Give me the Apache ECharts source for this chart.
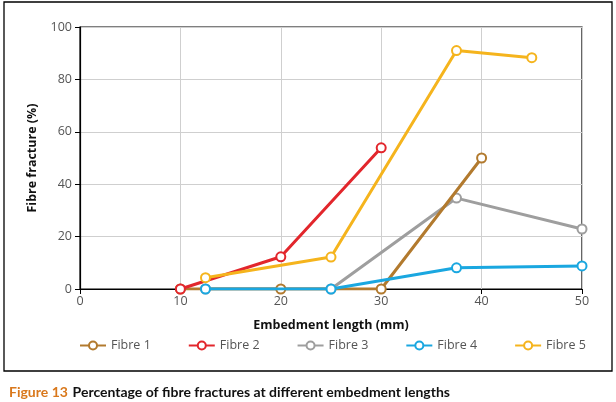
<!DOCTYPE html>
<html>
<head>
<meta charset="utf-8">
<script src="https://cdn.jsdelivr.net/npm/echarts@6/dist/echarts.min.js"></script>
<style>html,body{margin:0;padding:0;background:#fff;}#c{width:616px;height:402px;}</style>
</head>
<body>
<div id="c"></div>
<script>
const seriesNames = ['Fibre 1', 'Fibre 2', 'Fibre 3', 'Fibre 4', 'Fibre 5'];
const colors = ['#b27a2e', '#e2262c', '#9e9e9e', '#1aa7e0', '#f5b41d'];
const fibre1 = [[10, 0], [20, 0], [30, 0], [40, 50]];
const fibre2 = [[10, 0], [20, 12.3], [30, 53.9]];
const fibre3 = [[12.5, 0], [25, 0], [37.5, 34.7], [50, 22.9]];
const fibre4 = [[12.5, 0], [25, 0], [37.5, 8.1], [50, 8.8]];
const fibre5 = [[12.5, 4.3], [25, 12.2], [37.5, 91], [45, 88.3]];
const xTicks = [0, 10, 20, 30, 40, 50];
const yTicks = [0, 20, 40, 60, 80, 100];
const allData = [fibre1, fibre2, fibre3, fibre4, fibre5];
const font = "'Open Sans', 'Noto Sans', sans-serif";
const capFont = "Lato, 'Open Sans', sans-serif";

const chart = echarts.init(document.getElementById('c'));
chart.setOption({
  animation: false,
  textStyle: { fontFamily: font },
  grid: { left: 80, right: 34, top: 27, bottom: 113, show: true, borderColor: '#000', borderWidth: 1.2, backgroundColor: 'transparent' },
  xAxis: {
    type: 'value', min: xTicks[0], max: xTicks[xTicks.length - 1], interval: 10,
    name: 'Embedment length (mm)', nameLocation: 'middle', nameGap: 30,
    nameTextStyle: { fontFamily: font, fontWeight: 'bold', fontSize: 12.5, color: '#111' },
    axisLine: { lineStyle: { color: '#000', width: 1.2 } },
    axisTick: { show: true, length: 5, lineStyle: { color: '#000' } },
    axisLabel: { color: '#555', fontSize: 12.5, margin: 6 },
    splitLine: { show: true, lineStyle: { color: '#cfcfcf', width: 1 } }
  },
  yAxis: {
    type: 'value', min: yTicks[0], max: yTicks[yTicks.length - 1], interval: 20,
    name: 'Fibre fracture (%)', nameLocation: 'middle', nameGap: 41, nameRotate: 90,
    nameTextStyle: { fontFamily: font, fontWeight: 'bold', fontSize: 12.5, color: '#111' },
    axisLine: { show: true, lineStyle: { color: '#000', width: 1.2 } },
    axisTick: { show: true, length: 5, lineStyle: { color: '#000' } },
    axisLabel: { color: '#555', fontSize: 12.5, margin: 8 },
    splitLine: { show: true, lineStyle: { color: '#cfcfcf', width: 1 } }
  },
  legend: {
    bottom: 45, left: 74, itemGap: 37, itemWidth: 26, itemHeight: 10,
    textStyle: { color: '#555', fontSize: 12.5, fontFamily: font },
    data: seriesNames
  },
  title: {
    text: '{a|Figure 13} {b|Percentage of fibre fractures at different embedment lengths}',
    left: 4, top: 378,
    textStyle: {
      rich: {
        a: { fontFamily: capFont, fontWeight: 'bold', fontSize: 14, color: '#d9781c' },
        b: { fontFamily: capFont, fontWeight: 'bold', fontSize: 14, color: '#111' }
      }
    }
  },
  graphic: [{
    type: 'rect', shape: { x: 4, y: 2, width: 608, height: 369 },
    style: { fill: 'none', stroke: '#000', lineWidth: 1.3 }, silent: true, z: -1
  }],
  series: seriesNames.map((n, i) => ({
    name: n, type: 'line', data: allData[i],
    color: colors[i],
    lineStyle: { width: 3, color: colors[i] },
    symbol: 'circle', symbolSize: 9,
    itemStyle: { color: '#fff', borderColor: colors[i], borderWidth: 2 },
    z: [3, 4, 2, 5, 6][i]
  }))
});
</script>
</body>
</html>
